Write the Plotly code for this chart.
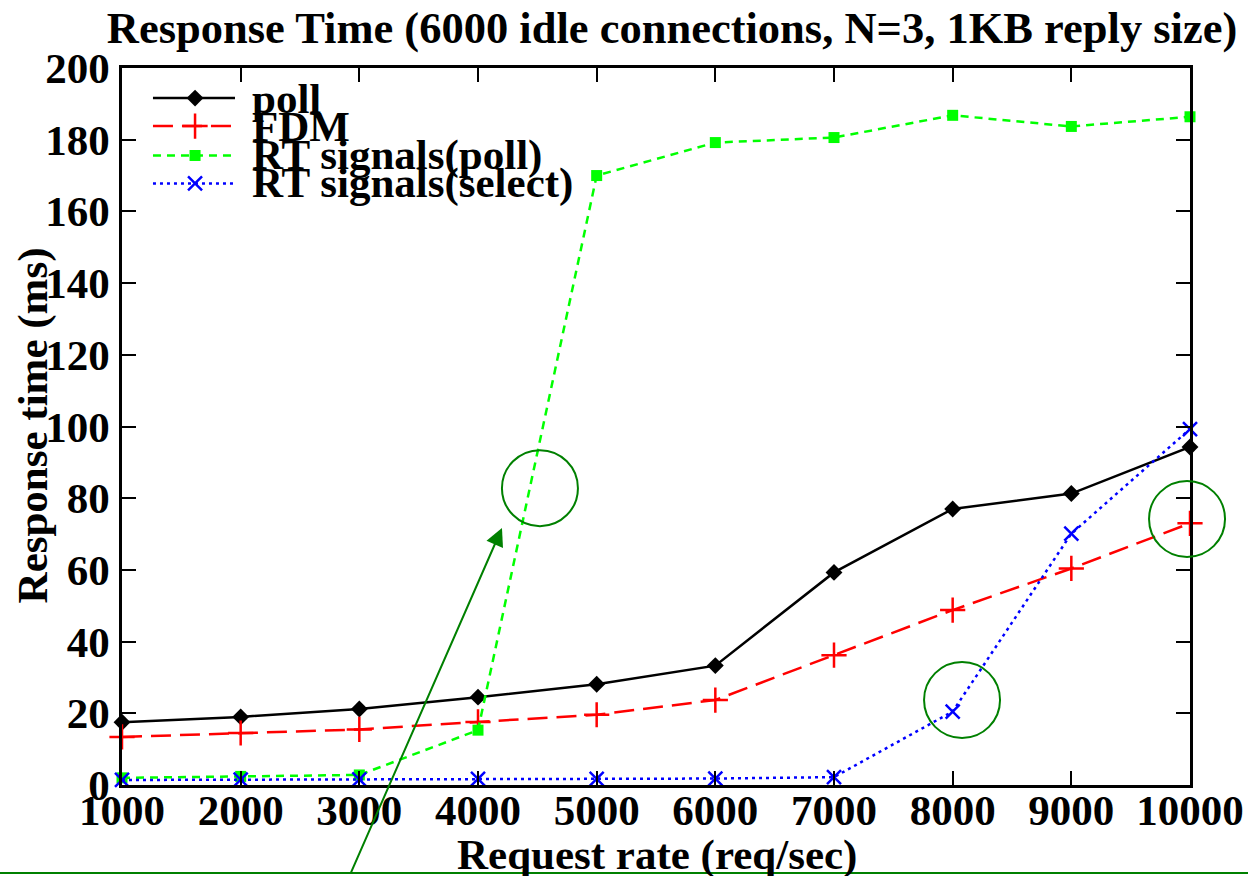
import plotly.graph_objects as go

# ---------------- data ----------------
request_rate = [1000, 2000, 3000, 4000, 5000, 6000, 7000, 8000, 9000, 10000]
poll = [17.5, 19.0, 21.2, 24.5, 28.1, 33.3, 59.3, 77.0, 81.3, 94.3]
fdm = [13.4, 14.5, 15.5, 17.6, 19.6, 23.7, 36.2, 48.8, 60.4, 73.0]
rt_poll = [2.0, 2.4, 2.8, 15.3, 170.0, 179.2, 180.6, 186.8, 183.7, 186.4]
rt_select = [1.4, 1.5, 1.6, 1.7, 1.7, 1.8, 2.2, 20.5, 70.1, 99.3]
series_names = ["poll", "FDM", "RT signals(poll)", "RT signals(select)"]
x_ticks = [1000, 2000, 3000, 4000, 5000, 6000, 7000, 8000, 9000, 10000]
y_ticks = [0, 20, 40, 60, 80, 100, 120, 140, 160, 180, 200]

X_MIN, X_MAX = 1000, 10000
Y_MIN, Y_MAX = 0, 200

# ---------------- styles ----------------
FONT = "Liberation Serif, Times New Roman, serif"
FS = 43
GREEN_NOTE = "#008000"
styles = [
    dict(color="#000000", dash="solid", symbol="diamond", msize=13, mline=0),
    dict(color="#ff0000", dash="20px,9px", symbol="cross-thin", msize=18, mline=2.5),
    dict(color="#00ff00", dash="8px,6px", symbol="square", msize=11, mline=0),
    dict(color="#0000ff", dash="3px,4px", symbol="x-thin", msize=14, mline=2.5),
]
series = [poll, fdm, rt_poll, rt_select]

fig = go.Figure()
for name, ys, st in zip(series_names, series, styles):
    fig.add_trace(go.Scatter(
        x=request_rate, y=ys, name=name, mode="lines+markers",
        line=dict(color=st["color"], width=2.5, dash=st["dash"]),
        marker=dict(symbol=st["symbol"], size=st["msize"], color=st["color"],
                    line=dict(color=st["color"], width=st["mline"])),
        showlegend=False, cliponaxis=False,
    ))

# ---------------- custom (overlapping) legend on an overlay axis ----------------
leg_x0, leg_xm, leg_x1 = 0.029, 0.0684, 0.1058
leg_rows = [0.958, 0.919, 0.878, 0.839]
leg_text_x = 0.1199
for name, st, yr in zip(series_names, styles, leg_rows):
    fig.add_trace(go.Scatter(
        x=[leg_x0, leg_x1], y=[yr, yr], mode="lines", xaxis="x2", yaxis="y2",
        line=dict(color=st["color"], width=2.5, dash=st["dash"]),
        showlegend=False, hoverinfo="skip"))
    fig.add_trace(go.Scatter(
        x=[leg_xm], y=[yr], mode="markers", xaxis="x2", yaxis="y2",
        marker=dict(symbol=st["symbol"], size=st["msize"], color=st["color"],
                    line=dict(color=st["color"], width=st["mline"])),
        showlegend=False, hoverinfo="skip"))
    fig.add_annotation(x=leg_text_x, y=yr, xref="paper", yref="paper",
                       text=name, showarrow=False, xanchor="left", yanchor="middle",
                       font=dict(family=FONT, size=FS, color="black", weight="bold"))

# ---------------- axis titles ----------------
fig.add_annotation(x=0.501, y=-0.098, xref="paper", yref="paper",
                   text="Request rate (req/sec)", showarrow=False,
                   xanchor="center", yanchor="middle",
                   font=dict(family=FONT, size=FS, color="black", weight="bold"))
fig.add_annotation(x=-0.083, y=0.502, xref="paper", yref="paper",
                   text="Response time (ms)", showarrow=False, textangle=-90,
                   xanchor="center", yanchor="middle",
                   font=dict(family=FONT, size=FS, color="black", weight="bold"))

# ---------------- green annotation marks ----------------
# circle centres in data units, placed via paper refs so they are not clipped
circles = [(4522, 82.8), (8079, 23.7), (9975, 74.2)]
for cx, cy in circles:
    fig.add_shape(type="circle", xref="paper", yref="paper",
                  xsizemode="pixel", ysizemode="pixel",
                  xanchor=(cx - X_MIN) / (X_MAX - X_MIN),
                  yanchor=(cy - Y_MIN) / (Y_MAX - Y_MIN),
                  x0=-38, x1=38, y0=-38, y1=38,
                  line=dict(color=GREEN_NOTE, width=2))
fig.add_annotation(x=4202, y=71.7, xref="x", yref="y", ax=-152, ay=347,
                   text="", showarrow=True, arrowhead=2, arrowsize=1.8,
                   arrowwidth=2, arrowcolor=GREEN_NOTE, standoff=0)
fig.add_shape(type="line", xref="paper", yref="paper",
              x0=-0.2, x1=1.2, y0=-0.1227, y1=-0.1227,
              line=dict(color=GREEN_NOTE, width=2))

axis_common = dict(
    showline=True, linecolor="black", linewidth=2.5, mirror="ticks",
    ticks="inside", ticklen=14, tickwidth=2, tickcolor="black",
    showgrid=False, zeroline=False, automargin=False,
    tickfont=dict(family=FONT, size=FS, color="black", weight="bold"),
)
fig.update_layout(
    width=1248, height=876,
    margin=dict(l=122, r=58, t=68, b=91),
    paper_bgcolor="white", plot_bgcolor="white",
    font=dict(family=FONT, size=FS, color="black", weight="bold"),
    title=dict(text="Response Time (6000 idle connections, N=3, 1KB reply size)",
               x=0.5385, xanchor="center", y=0.969, yanchor="middle",
               font=dict(family=FONT, size=44.5, color="black", weight="bold")),
    xaxis=dict(range=[X_MIN, X_MAX], tickvals=x_ticks,
               ticktext=[str(v) for v in x_ticks], ticklabelstandoff=-14, **axis_common),
    yaxis=dict(range=[Y_MIN, Y_MAX], tickvals=y_ticks,
               ticktext=[str(v) for v in y_ticks], ticklabelstandoff=1, **axis_common),
    xaxis2=dict(range=[0, 1], overlaying="x", visible=False, fixedrange=True),
    yaxis2=dict(range=[0, 1], overlaying="y", visible=False, fixedrange=True),
    showlegend=False,
)

fig.write_html("out.html")
